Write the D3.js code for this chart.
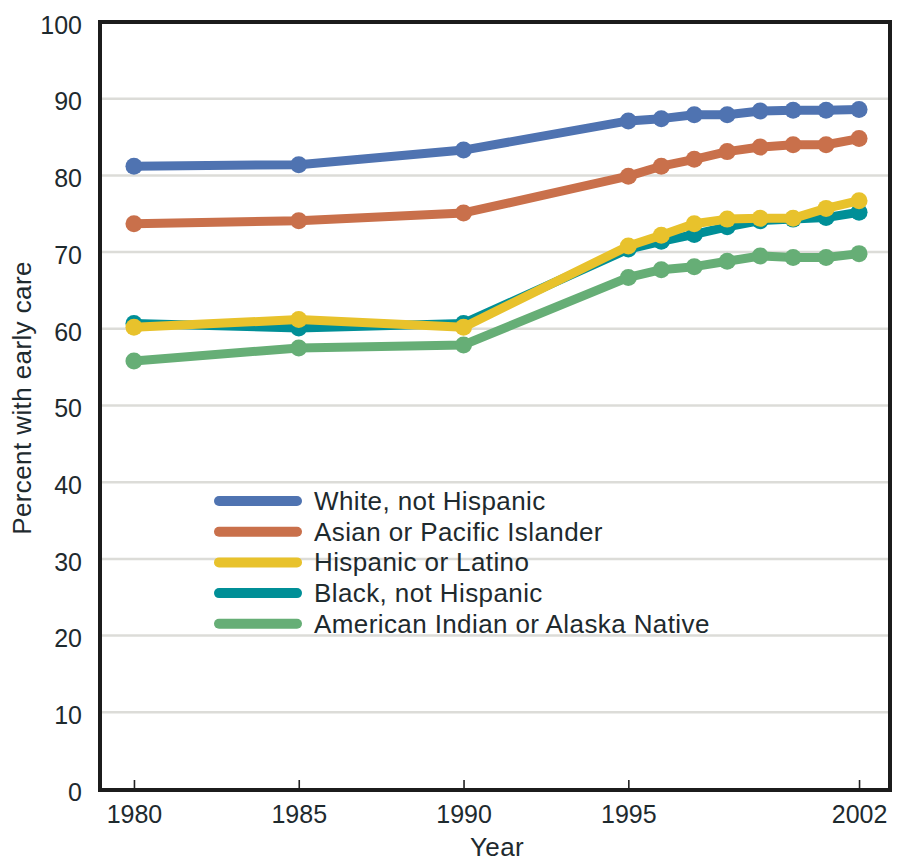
<!DOCTYPE html>
<html>
<head>
<meta charset="utf-8">
<script src="https://cdn.jsdelivr.net/npm/d3@7"></script>
<style>
  html, body { margin: 0; padding: 0; background: #fff; }
  svg { display: block; font-family: "Liberation Sans", Arial, sans-serif; }
</style>
</head>
<body>
<svg id="chart" width="903" height="862"></svg>
<script>
const years = [1980, 1985, 1990, 1995, 1996, 1997, 1998, 1999, 2000, 2001, 2002];
const xTickLabels = [1980, 1985, 1990, 1995, 2002];
const yTickLabels = [0, 10, 20, 30, 40, 50, 60, 70, 80, 90, 100];

const seriesNames = [
  "White, not Hispanic",
  "Asian or Pacific Islander",
  "Hispanic or Latino",
  "Black, not Hispanic",
  "American Indian or Alaska Native"
];
const seriesColors = ["#4F73B1", "#C9704B", "#E8C22C", "#008F97", "#66AE76"];

const white    = [81.2, 81.4, 83.3, 87.1, 87.4, 87.9, 87.9, 88.4, 88.5, 88.5, 88.6];
const asian    = [73.7, 74.1, 75.1, 79.9, 81.2, 82.1, 83.1, 83.7, 84.0, 84.0, 84.8];
const hispanic = [60.2, 61.2, 60.2, 70.8, 72.2, 73.7, 74.3, 74.4, 74.4, 75.7, 76.7];
const black    = [60.7, 60.1, 60.7, 70.4, 71.4, 72.3, 73.3, 74.1, 74.3, 74.5, 75.2];
const aian     = [55.8, 57.5, 57.9, 66.7, 67.7, 68.1, 68.8, 69.5, 69.3, 69.3, 69.8];

const seriesValues = [white, asian, hispanic, black, aian];
// draw order: bottom first
const drawOrder = [4, 3, 2, 1, 0];

(function () {
const svg = d3.select("#chart");
const pLeft = 100, pRight = 890, pTop = 22, pBottom = 790;

const x = d3.scaleLinear().domain([1979, 2003]).range([101, 892]);
const y = d3.scaleLinear().domain([0, 100]).range([789, 22]);

const textColor = "#1e2a2e";
const labelFont = 26;
const labelSpacing = "0.4px";

// gridlines
svg.append("g")
  .selectAll("line")
  .data(yTickLabels.filter(d => d > 0 && d < 100))
  .join("line")
  .attr("x1", pLeft).attr("x2", pRight)
  .attr("y1", d => y(d)).attr("y2", d => y(d))
  .attr("stroke", "#dcdcd8")
  .attr("stroke-width", 2.5);

// y axis labels
const yAxis = d3.axisLeft(y).tickValues(yTickLabels).tickSize(0).tickPadding(18);
const gy = svg.append("g").attr("transform", `translate(${pLeft},0)`).call(yAxis);
gy.select(".domain").remove();
gy.selectAll("text")
  .attr("font-size", 25)
  .attr("fill", textColor)
  .attr("font-family", "Liberation Sans, Arial, sans-serif")
  .attr("dy", "0.45em");

// x axis labels + inside ticks
const xAxis = d3.axisBottom(x).tickValues(xTickLabels).tickFormat(d3.format("d")).tickSize(-10).tickPadding(15);
const gx = svg.append("g").attr("transform", `translate(0,${pBottom})`).call(xAxis);
gx.select(".domain").remove();
gx.selectAll("line").attr("stroke", "#222").attr("stroke-width", 1.6);
gx.selectAll("text")
  .attr("font-size", 25)
  .attr("fill", textColor)
  .attr("font-family", "Liberation Sans, Arial, sans-serif");

// legend
const legend = svg.append("g");
seriesNames.forEach((name, i) => {
  const cy = 501 + i * 30.7;
  legend.append("line")
    .attr("x1", 219).attr("x2", 297)
    .attr("y1", cy).attr("y2", cy)
    .attr("stroke", seriesColors[i])
    .attr("stroke-width", 10)
    .attr("stroke-linecap", "round");
  legend.append("text")
    .attr("x", 314).attr("y", cy + 9)
    .attr("font-size", labelFont)
    .attr("letter-spacing", labelSpacing)
    .attr("fill", textColor)
    .text(name);
});

// series lines
const lineGen = d3.line().x((d, i) => x(years[i])).y(d => y(d));
drawOrder.forEach(si => {
  const g = svg.append("g");
  g.append("path")
    .datum(seriesValues[si])
    .attr("d", lineGen)
    .attr("fill", "none")
    .attr("stroke", seriesColors[si])
    .attr("stroke-width", 9)
    .attr("stroke-linejoin", "round");
  g.selectAll("circle")
    .data(seriesValues[si])
    .join("circle")
    .attr("cx", (d, i) => x(years[i]))
    .attr("cy", d => y(d))
    .attr("r", 8.5)
    .attr("fill", seriesColors[si]);
});

// frame
svg.append("rect")
  .attr("x", pLeft).attr("y", pTop)
  .attr("width", pRight - pLeft).attr("height", pBottom - pTop)
  .attr("fill", "none")
  .attr("stroke", "#1c1c1c")
  .attr("stroke-width", 4);

// axis titles
svg.append("text")
  .attr("x", 497).attr("y", 856)
  .attr("text-anchor", "middle")
  .attr("font-size", labelFont)
  .attr("letter-spacing", labelSpacing)
  .attr("fill", textColor)
  .text("Year");

svg.append("text")
  .attr("transform", `translate(31,${(pTop + pBottom) / 2 - 8}) rotate(-90)`)
  .attr("text-anchor", "middle")
  .attr("font-size", labelFont)
  .attr("letter-spacing", labelSpacing)
  .attr("fill", textColor)
  .text("Percent with early care");
})();
</script>
</body>
</html>
